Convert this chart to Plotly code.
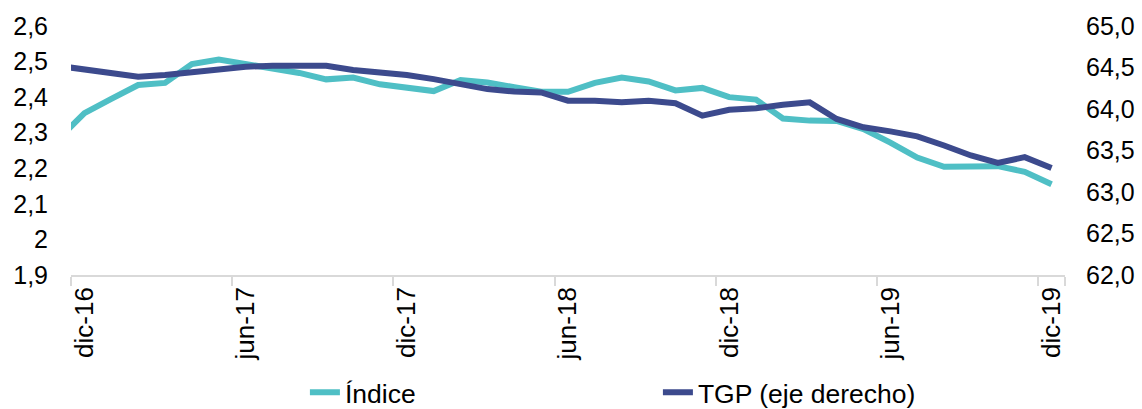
import plotly.graph_objects as go

# Monthly categories (nov-16 lies just left of the visible range and is clipped)
months = ["nov-16",
          "dic-16", "ene-17", "feb-17", "mar-17", "abr-17", "may-17",
          "jun-17", "jul-17", "ago-17", "sep-17", "oct-17", "nov-17",
          "dic-17", "ene-18", "feb-18", "mar-18", "abr-18", "may-18",
          "jun-18", "jul-18", "ago-18", "sep-18", "oct-18", "nov-18",
          "dic-18", "ene-19", "feb-19", "mar-19", "abr-19", "may-19",
          "jun-19", "jul-19", "ago-19", "sep-19", "oct-19", "nov-19",
          "dic-19"]

indice = [2.280,
          2.355, 2.395, 2.434, 2.440, 2.493, 2.506,
          2.494, 2.483, 2.468, 2.450, 2.455, 2.436,
          2.425, 2.417, 2.448, 2.441, 2.428, 2.415,
          2.415, 2.440, 2.455, 2.444, 2.419, 2.426,
          2.400, 2.393, 2.340, 2.334, 2.333, 2.310,
          2.272, 2.230, 2.204, 2.204, 2.206, 2.190,
          2.155]

tgp = [64.52,
       64.48, 64.43, 64.39, 64.41, 64.44, 64.47,
       64.51, 64.52, 64.52, 64.52, 64.47, 64.44,
       64.41, 64.36, 64.30, 64.24, 64.21, 64.20,
       64.10, 64.10, 64.08, 64.10, 64.07, 63.92,
       63.99, 64.01, 64.05, 64.08, 63.88, 63.78,
       63.73, 63.67, 63.56, 63.44, 63.35, 63.42,
       63.29]

tick_labels = ["dic-16", "jun-17", "dic-17", "jun-18", "dic-18", "jun-19", "dic-19"]

TEAL = "#4FBFC5"
NAVY = "#3C4A8D"
FONT = "Liberation Sans, Arial, sans-serif"

fig = go.Figure()
fig.add_trace(go.Scatter(x=months, y=indice, name="Índice", mode="lines",
                         line=dict(color=TEAL, width=6), yaxis="y"))
fig.add_trace(go.Scatter(x=months, y=tgp, name="TGP (eje derecho)", mode="lines",
                         line=dict(color=NAVY, width=6), yaxis="y2"))

fig.update_layout(
    width=1142, height=409,
    margin=dict(l=71, r=77, t=26, b=134),
    paper_bgcolor="white", plot_bgcolor="white",
    separators=",.",
    font=dict(family=FONT, size=25, color="#000000"),
    showlegend=True,
    legend=dict(orientation="h", xref="container", yref="container",
                x=0.267, y=0.04, xanchor="left", yanchor="middle",
                entrywidth=308, entrywidthmode="pixels",
                font=dict(family=FONT, size=26.5, color="#000000"),
                bgcolor="rgba(0,0,0,0)", itemwidth=30),
    xaxis=dict(type="category", range=[0.5, len(months) - 0.5],
               tickmode="array", tickvals=tick_labels, ticktext=tick_labels,
               tickson="boundaries", ticks="outside", ticklen=9,
               tickcolor="#D9D9D9", tickwidth=1.5,
               showline=True, linecolor="#D9D9D9", linewidth=1.5,
               showgrid=False, zeroline=False, tickangle=-90,
               tickfont=dict(family=FONT, size=26), automargin=False),
    yaxis=dict(range=[1.9, 2.6], dtick=0.1, tick0=1.9,
               showgrid=False, zeroline=False, showline=False,
               ticks="", ticklabelstandoff=22,
               tickfont=dict(family=FONT, size=25), automargin=False),
    yaxis2=dict(range=[62, 65], dtick=0.5, tick0=62, tickformat=".1f",
                overlaying="y", side="right",
                showgrid=False, zeroline=False, showline=False,
                ticks="", ticklabelstandoff=20,
                tickfont=dict(family=FONT, size=25), automargin=False),
)

fig.write_html("out.html",
               config={"displayModeBar": False},
               post_script="document.body.style.margin='0';document.body.style.overflow='hidden';")
